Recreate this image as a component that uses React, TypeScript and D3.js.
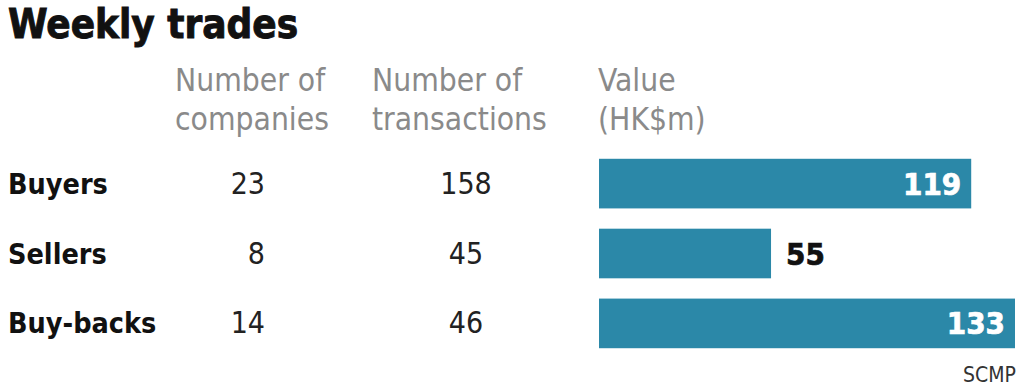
import React from "react";
import * as d3 from "d3";

const categories = ["Buyers", "Sellers", "Buy-backs"];
const companies = [23, 8, 14];
const transactions = [158, 45, 46];
const values = [119, 55, 133];
const headers = [["Number of", "companies"], ["Number of", "transactions"], ["Value", "(HK$m)"]];

const W = 1024, H = 389;
const COND = "'Liberation Sans Narrow', 'DejaVu Sans Condensed', 'Roboto', sans-serif";
const TEAL = "#2b88a8";

export default function App() {
  const x = d3.scaleLinear().domain([0, 133]).range([599, 1015]);
  const y = d3.scaleBand<string>().domain(categories).range([149, 358]).paddingInner(0.29).paddingOuter(0.14);
  const bh = y.bandwidth();
  const headerX = [175, 372, 598];
  return (
    <svg width={W} height={H} style={{ position: "absolute", left: 0, top: 0, background: "#fff" }}>
      <text x={8} y={38} fontFamily={COND} fontWeight={700} fontSize={40} fill="#111" stroke="#111" strokeWidth={0.9}>Weekly trades</text>
      {headers.map((lines, i) => (
        <text key={i} x={headerX[i]} fontFamily={COND} fontSize={31.5} fill="#8a8a8a">
          {lines.map((l, j) => (
            <tspan key={j} x={headerX[i]} y={91 + j * 39}>{l}</tspan>
          ))}
        </text>
      ))}
      {categories.map((c, i) => {
        const yc = (y(c) as number) + bh / 2;
        const v = values[i];
        const inside = v > 80;
        const fill = inside ? "#fff" : "#111";
        return (
          <g key={c}>
            <text x={8} y={yc + 10} fontFamily={COND} fontWeight={700} fontSize={28.5} fill="#111">{c}</text>
            <text x={265} y={yc + 10} textAnchor="end" fontFamily={COND} fontSize={30} fill="#222">{companies[i]}</text>
            <text x={466} y={yc + 10} textAnchor="middle" fontFamily={COND} fontSize={30} fill="#222">{transactions[i]}</text>
            <rect x={x(0)} y={y(c)} width={x(v) - x(0)} height={bh} fill={TEAL} />
            <text
              x={inside ? x(v) - 10 : x(v) + 15}
              y={yc + 11}
              textAnchor={inside ? "end" : "start"}
              fontFamily={COND}
              fontWeight={700}
              fontSize={31}
              fill={fill}
              stroke={fill}
              strokeWidth={0.7}
            >{v}</text>
          </g>
        );
      })}
      <text x={1016} y={382} textAnchor="end" fontFamily={COND} fontSize={21} fill="#333">SCMP</text>
    </svg>
  );
}
